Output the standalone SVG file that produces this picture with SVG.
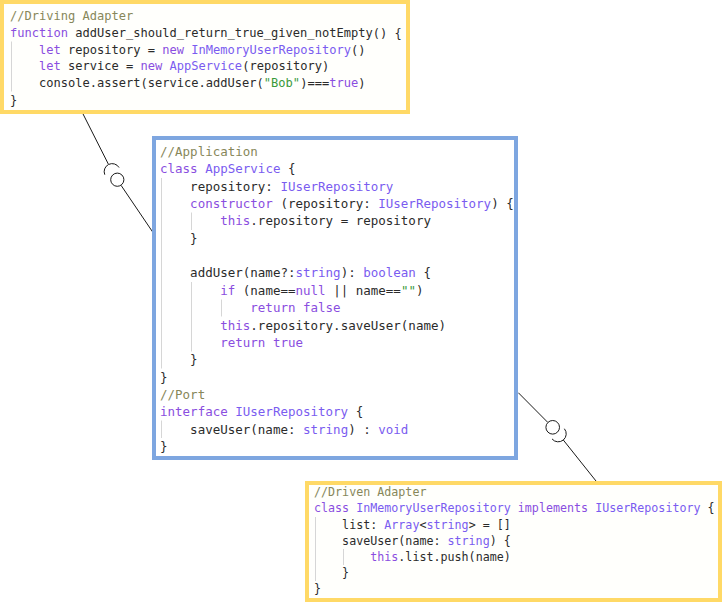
<svg xmlns="http://www.w3.org/2000/svg" width="723" height="603" viewBox="0 0 723 603">
<style>
  .code { font-family: "DejaVu Sans Mono", "Liberation Mono", monospace; fill: #2b2b2b; white-space: pre; }
  .b1 { font-size: 12.06px; }
  .b2 { font-size: 12.5px; }
  .b3 { font-size: 11.68px; }
  .c { fill: #87875a; }
  .k { fill: #8a4ee0; }
  .t { fill: #7a5cf0; }
  .s { fill: #3a9a3a; }
  .adapter { fill: #fffffc; stroke: #FFD966; stroke-width: 4; }
  .app { fill: #ffffff; stroke: #7EA6E0; stroke-width: 4; }
  .guide { stroke: #d6d6d6; stroke-width: 1; }
  .wire { stroke: #1a1a1a; stroke-width: 1; fill: none; }
  .ball { stroke: #1a1a1a; stroke-width: 1; fill: #ffffff; }
</style>

<g id="connectors">
  <line class="wire" x1="82.7" y1="113.3" x2="108.3" y2="164"/>
  <path class="wire" d="M104.78,174.7 A8,8 0 0,1 119.02,167.5"/>
  <line class="wire" x1="153" y1="232.5" x2="121.1" y2="185.4"/>
  <circle class="ball" cx="117.3" cy="179.7" r="6.6"/>

  <line class="wire" x1="518.3" y1="392.7" x2="547.9" y2="422.5"/>
  <circle class="ball" cx="552.7" cy="427.3" r="6.8"/>
  <line class="wire" x1="596" y1="481" x2="563.3" y2="440"/>
  <path class="wire" d="M552.03,438.91 A8,8 0 0,0 564.39,428.73"/>
</g>

<g id="driving-adapter">
  <rect class="adapter" x="2" y="2" width="406" height="110"/>
  <line class="guide" x1="11.5" y1="41.5" x2="11.5" y2="91.5"/>
  <text class="code b1" xml:space="preserve" x="10" y="20.2"><tspan class="c">//Driving Adapter</tspan></text>
  <text class="code b1" xml:space="preserve" x="10" y="36.95"><tspan class="k">function</tspan> addUser_should_return_true_given_notEmpty() {</text>
  <text class="code b1" xml:space="preserve" x="10" y="53.7">    <tspan class="k">let</tspan> repository = <tspan class="k">new</tspan> <tspan class="t">InMemoryUserRepository</tspan>()</text>
  <text class="code b1" xml:space="preserve" x="10" y="70.45">    <tspan class="k">let</tspan> service = <tspan class="k">new</tspan> <tspan class="t">AppService</tspan>(repository)</text>
  <text class="code b1" xml:space="preserve" x="10" y="87.2">    console.assert(service.addUser(<tspan class="s">"Bob"</tspan>)===<tspan class="k">true</tspan>)</text>
  <text class="code b1" xml:space="preserve" x="10" y="103.95">}</text>
</g>

<g id="application">
  <rect class="app" x="154" y="138" width="362" height="320"/>
  <line class="guide" x1="161.5" y1="178" x2="161.5" y2="368.5"/>
  <line class="guide" x1="191.5" y1="212.5" x2="191.5" y2="230"/>
  <line class="guide" x1="191.5" y1="282" x2="191.5" y2="351.5"/>
  <line class="guide" x1="221.5" y1="299.5" x2="221.5" y2="316.5"/>
  <line class="guide" x1="161.5" y1="420.5" x2="161.5" y2="438"/>
  <text class="code b2" xml:space="preserve" x="160" y="156"><tspan class="c">//Application</tspan></text>
  <text class="code b2" xml:space="preserve" x="160" y="173.35"><tspan class="k">class</tspan> <tspan class="t">AppService</tspan> {</text>
  <text class="code b2" xml:space="preserve" x="160" y="190.7">    repository: <tspan class="t">IUserRepository</tspan></text>
  <text class="code b2" xml:space="preserve" x="160" y="208.05">    <tspan class="k">constructor</tspan> (repository: <tspan class="t">IUserRepository</tspan>) {</text>
  <text class="code b2" xml:space="preserve" x="160" y="225.4">        <tspan class="k">this</tspan>.repository = repository</text>
  <text class="code b2" xml:space="preserve" x="160" y="242.75">    }</text>
  <text class="code b2" xml:space="preserve" x="160" y="277.45">    addUser(name?:<tspan class="t">string</tspan>): <tspan class="t">boolean</tspan> {</text>
  <text class="code b2" xml:space="preserve" x="160" y="294.8">        <tspan class="k">if</tspan> (name==<tspan class="k">null</tspan> || name==<tspan class="s">""</tspan>)</text>
  <text class="code b2" xml:space="preserve" x="160" y="312.15">            <tspan class="k">return</tspan> <tspan class="k">false</tspan></text>
  <text class="code b2" xml:space="preserve" x="160" y="329.5">        <tspan class="k">this</tspan>.repository.saveUser(name)</text>
  <text class="code b2" xml:space="preserve" x="160" y="346.85">        <tspan class="k">return</tspan> <tspan class="k">true</tspan></text>
  <text class="code b2" xml:space="preserve" x="160" y="364.2">    }</text>
  <text class="code b2" xml:space="preserve" x="160" y="381.55">}</text>
  <text class="code b2" xml:space="preserve" x="160" y="398.9"><tspan class="c">//Port</tspan></text>
  <text class="code b2" xml:space="preserve" x="160" y="416.25"><tspan class="k">interface</tspan> <tspan class="t">IUserRepository</tspan> {</text>
  <text class="code b2" xml:space="preserve" x="160" y="433.6">    saveUser(name: <tspan class="t">string</tspan>) : <tspan class="t">void</tspan></text>
  <text class="code b2" xml:space="preserve" x="160" y="450.95">}</text>
</g>

<g id="driven-adapter">
  <rect class="adapter" x="307" y="483" width="413" height="117"/>
  <line class="guide" x1="315.5" y1="517" x2="315.5" y2="581"/>
  <line class="guide" x1="343.5" y1="549" x2="343.5" y2="565"/>
  <text class="code b3" xml:space="preserve" x="314" y="496.3"><tspan class="c">//Driven Adapter</tspan></text>
  <text class="code b3" xml:space="preserve" x="314" y="512.45"><tspan class="k">class</tspan> <tspan class="t">InMemoryUserRepository</tspan> <tspan class="k">implements</tspan> <tspan class="t">IUserRepository</tspan> {</text>
  <text class="code b3" xml:space="preserve" x="314" y="528.6">    list: <tspan class="t">Array</tspan>&lt;<tspan class="t">string</tspan>&gt; = []</text>
  <text class="code b3" xml:space="preserve" x="314" y="544.75">    saveUser(name: <tspan class="t">string</tspan>) {</text>
  <text class="code b3" xml:space="preserve" x="314" y="560.9">        <tspan class="k">this</tspan>.list.push(name)</text>
  <text class="code b3" xml:space="preserve" x="314" y="577.05">    }</text>
  <text class="code b3" xml:space="preserve" x="314" y="593.2">}</text>
</g>
</svg>
